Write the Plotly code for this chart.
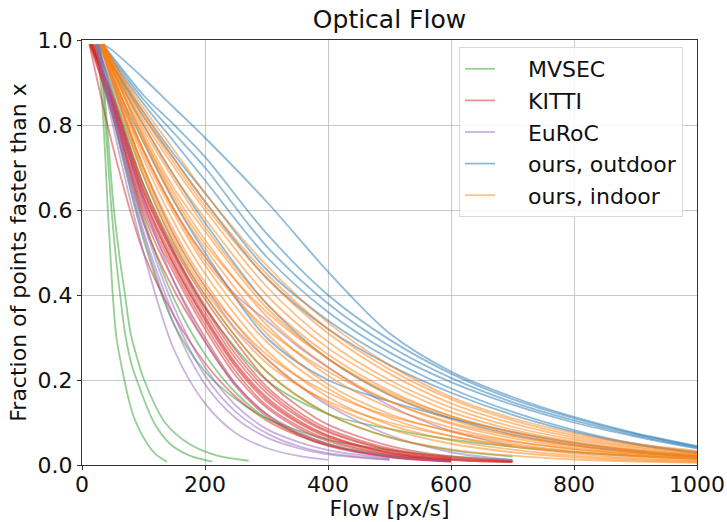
import plotly.graph_objects as go

# ---------------- data ----------------
TITLE = "Optical Flow"
X_LABEL = "Flow [px/s]"
Y_LABEL = "Fraction of points faster than x"
X_TICKS = [0, 200, 400, 600, 800, 1000]
Y_TICKS = [0.0, 0.2, 0.4, 0.6, 0.8, 1.0]
Y_TICK_TEXT = ["0.0", "0.2", "0.4", "0.6", "0.8", "1.0"]

# MVSEC: per-curve x and y samples
MVSEC_X = [
    [25, 33, 38, 42, 46, 50, 56, 66, 75, 86, 106, 120, 138],
    [28, 36, 42, 48, 55, 62, 70, 80, 89, 117, 143, 175, 212],
    [30, 38, 45, 52, 61, 70, 79, 90, 101, 135, 174, 220, 271],
    [20, 50, 100, 150, 200, 250, 300, 400, 500, 600, 700],
    [25, 50, 100, 150, 200, 300, 400, 500, 600, 800, 1000],
    [22, 50, 100, 150, 200, 250, 300, 400, 500, 600],
    [25, 50, 100, 150, 200, 300, 400, 500, 600, 700],
]
MVSEC_Y = [
    [0.99, 0.85, 0.72, 0.60, 0.50, 0.40, 0.30, 0.22, 0.16, 0.106, 0.05, 0.025, 0.008],
    [0.99, 0.85, 0.72, 0.60, 0.49, 0.40, 0.31, 0.24, 0.20, 0.10, 0.05, 0.022, 0.008],
    [0.99, 0.85, 0.72, 0.60, 0.49, 0.40, 0.31, 0.25, 0.20, 0.10, 0.05, 0.022, 0.01],
    [0.99, 0.82, 0.53, 0.33, 0.22, 0.155, 0.11, 0.06, 0.035, 0.02, 0.012],
    [0.99, 0.87, 0.66, 0.50, 0.37, 0.20, 0.12, 0.085, 0.06, 0.03, 0.015],
    [0.99, 0.84, 0.58, 0.39, 0.26, 0.17, 0.11, 0.05, 0.022, 0.01],
    [0.99, 0.88, 0.68, 0.52, 0.40, 0.22, 0.12, 0.065, 0.035, 0.02],
]

# KITTI / EuRoC: start x, then y on a shared grid (list length = where curve ends)
SHORT_GRID = [50, 100, 150, 200, 250, 300, 350, 400, 500, 600, 700]
KITTI_X0 = [12, 14, 15, 16, 18, 15, 13, 17, 20, 14, 12, 16]
KITTI_Y = [
    [0.83, 0.59, 0.43, 0.30, 0.19, 0.12, 0.075, 0.048, 0.019, 0.008],
    [0.84, 0.60, 0.45, 0.32, 0.21, 0.135, 0.088, 0.056, 0.023, 0.010],
    [0.85, 0.62, 0.47, 0.34, 0.23, 0.15, 0.10, 0.065, 0.028, 0.012, 0.007],
    [0.85, 0.63, 0.48, 0.35, 0.24, 0.16, 0.107, 0.07, 0.030, 0.013],
    [0.86, 0.64, 0.49, 0.36, 0.25, 0.17, 0.115, 0.077, 0.034, 0.015, 0.008],
    [0.86, 0.65, 0.50, 0.375, 0.27, 0.185, 0.127, 0.085, 0.039, 0.017],
    [0.87, 0.66, 0.51, 0.39, 0.29, 0.20, 0.14, 0.095, 0.045, 0.020, 0.010],
    [0.84, 0.61, 0.46, 0.33, 0.22, 0.14, 0.093, 0.06, 0.025, 0.011],
    [0.85, 0.63, 0.47, 0.345, 0.235, 0.155, 0.103, 0.068, 0.029, 0.012, 0.007],
    [0.82, 0.57, 0.41, 0.29, 0.185, 0.115, 0.072, 0.045, 0.018, 0.008],
    [0.75, 0.50, 0.35, 0.24, 0.16, 0.105, 0.07, 0.046, 0.020, 0.009],
    [0.86, 0.645, 0.495, 0.37, 0.26, 0.178, 0.12, 0.08, 0.036, 0.016, 0.009],
]
EUROC_X0 = [22, 24, 25, 26, 23, 28, 25]
EUROC_Y = [
    [0.80, 0.50, 0.27, 0.145, 0.075, 0.04, 0.022, 0.012],
    [0.82, 0.54, 0.33, 0.19, 0.11, 0.065, 0.04, 0.025, 0.012],
    [0.84, 0.57, 0.37, 0.23, 0.14, 0.085, 0.055, 0.035, 0.015],
    [0.86, 0.62, 0.43, 0.29, 0.19, 0.12, 0.08, 0.05, 0.020, 0.010],
    [0.89, 0.70, 0.54, 0.42, 0.32, 0.25, 0.19, 0.14, 0.070, 0.030, 0.012],
    [0.90, 0.74, 0.60, 0.49, 0.40, 0.34, 0.28, 0.23, 0.14, 0.08, 0.045],
    [0.83, 0.55, 0.35, 0.21, 0.125, 0.075, 0.045, 0.028, 0.013],
]

# ours: start x, then y on a long shared grid
LONG_GRID = [50, 100, 150, 200, 300, 400, 500, 600, 700, 800, 900, 1000]
OUTDOOR_X0 = [35, 34, 33, 33, 32, 31, 30, 30]
OUTDOOR_Y = [
    [0.975, 0.91, 0.84, 0.77, 0.62, 0.455, 0.31, 0.22, 0.16, 0.113, 0.075, 0.045],
    [0.96, 0.87, 0.80, 0.725, 0.545, 0.40, 0.295, 0.215, 0.155, 0.11, 0.073, 0.043],
    [0.955, 0.86, 0.78, 0.70, 0.515, 0.38, 0.28, 0.205, 0.148, 0.105, 0.07, 0.041],
    [0.95, 0.85, 0.76, 0.67, 0.49, 0.36, 0.265, 0.195, 0.142, 0.10, 0.067, 0.039],
    [0.94, 0.83, 0.73, 0.64, 0.46, 0.34, 0.25, 0.18, 0.125, 0.082, 0.05, 0.030],
    [0.94, 0.82, 0.72, 0.62, 0.44, 0.32, 0.235, 0.17, 0.118, 0.078, 0.048, 0.028],
    [0.93, 0.80, 0.68, 0.57, 0.38, 0.25, 0.165, 0.11, 0.072, 0.047, 0.03, 0.019],
    [0.91, 0.76, 0.62, 0.50, 0.30, 0.20, 0.15, 0.11, 0.078, 0.052, 0.033, 0.020],
]
INDOOR_X0 = [30, 31, 31, 32, 32, 33, 33, 33, 34, 34, 34, 35, 35, 35, 30, 32, 33, 30]
INDOOR_Y = [
    [0.90, 0.68, 0.52, 0.40, 0.22, 0.12, 0.065, 0.037, 0.022, 0.013, 0.008, 0.005],
    [0.91, 0.70, 0.55, 0.43, 0.25, 0.145, 0.085, 0.05, 0.03, 0.018, 0.011, 0.007],
    [0.91, 0.72, 0.57, 0.45, 0.27, 0.16, 0.095, 0.058, 0.036, 0.022, 0.014, 0.009],
    [0.92, 0.73, 0.59, 0.47, 0.29, 0.18, 0.11, 0.068, 0.043, 0.027, 0.017, 0.011],
    [0.92, 0.74, 0.60, 0.49, 0.31, 0.19, 0.12, 0.078, 0.05, 0.032, 0.021, 0.014],
    [0.93, 0.76, 0.62, 0.51, 0.33, 0.21, 0.135, 0.088, 0.057, 0.037, 0.024, 0.016],
    [0.93, 0.77, 0.64, 0.53, 0.35, 0.23, 0.15, 0.097, 0.063, 0.041, 0.027, 0.018],
    [0.93, 0.78, 0.65, 0.55, 0.37, 0.25, 0.165, 0.107, 0.07, 0.046, 0.03, 0.020],
    [0.94, 0.79, 0.67, 0.56, 0.38, 0.26, 0.175, 0.115, 0.076, 0.05, 0.033, 0.022],
    [0.94, 0.80, 0.68, 0.58, 0.40, 0.275, 0.19, 0.125, 0.083, 0.055, 0.036, 0.024],
    [0.94, 0.81, 0.70, 0.60, 0.42, 0.29, 0.20, 0.135, 0.09, 0.06, 0.04, 0.026],
    [0.95, 0.82, 0.71, 0.61, 0.44, 0.31, 0.215, 0.145, 0.098, 0.065, 0.043, 0.028],
    [0.95, 0.83, 0.72, 0.62, 0.45, 0.32, 0.225, 0.155, 0.105, 0.07, 0.047, 0.031],
    [0.95, 0.84, 0.74, 0.64, 0.47, 0.335, 0.235, 0.16, 0.11, 0.075, 0.05, 0.033],
    [0.90, 0.70, 0.54, 0.42, 0.26, 0.17, 0.115, 0.08, 0.055, 0.038, 0.026, 0.018],
    [0.92, 0.74, 0.60, 0.48, 0.32, 0.22, 0.15, 0.10, 0.068, 0.045, 0.03, 0.020],
    [0.93, 0.77, 0.63, 0.52, 0.36, 0.25, 0.17, 0.115, 0.078, 0.052, 0.035, 0.023],
    [0.90, 0.69, 0.53, 0.41, 0.24, 0.15, 0.10, 0.068, 0.046, 0.031, 0.021, 0.014],
]

GROUP_NAMES = ["MVSEC", "KITTI", "EuRoC", "ours, outdoor", "ours, indoor"]
GROUP_COLORS = ["rgba(44,160,44,0.5)", "rgba(214,39,40,0.5)", "rgba(148,103,189,0.5)",
                "rgba(31,119,180,0.5)", "rgba(255,127,14,0.5)"]

# ---------------- build curves ----------------
def grid_curves(x0s, ys, grid):
    out = []
    for x0, y in zip(x0s, ys):
        out.append(([x0] + grid[:len(y)], [0.99] + y))
    return out

groups = [
    list(zip(MVSEC_X, MVSEC_Y)),
    grid_curves(KITTI_X0, KITTI_Y, SHORT_GRID),
    grid_curves(EUROC_X0, EUROC_Y, SHORT_GRID),
    grid_curves(OUTDOOR_X0, OUTDOOR_Y, LONG_GRID),
    grid_curves(INDOOR_X0, INDOOR_Y, LONG_GRID),
]

fig = go.Figure()
NBSP = "\u00a0"
for gi, (name, color, curves) in enumerate(zip(GROUP_NAMES, GROUP_COLORS, groups)):
    for ci, (xs, ys) in enumerate(curves):
        fig.add_trace(go.Scatter(
            x=xs, y=ys, mode="lines",
            line=dict(color=color, width=1.8, shape="spline", smoothing=0.9),
            name=NBSP * 4 + name, legendgroup=name, showlegend=(ci == 0),
            hoverinfo="skip",
        ))

FONT = "DejaVu Sans"
fig.update_layout(
    width=727, height=522,
    margin=dict(l=82, r=30, t=40, b=57, autoexpand=False),
    paper_bgcolor="white", plot_bgcolor="white",
    font=dict(family=FONT, size=22, color="#111"),
    title=dict(text=TITLE, x=0.5, xref="paper", xanchor="center",
               y=1 - 19 / 522, yanchor="middle", font=dict(size=25, family=FONT)),
    showlegend=True,
    legend=dict(x=(459 - 82) / 615, y=(465 - 47) / 425, xanchor="left", yanchor="top",
                bgcolor="rgba(255,255,255,0.85)", bordercolor="#d9d9d9", borderwidth=1,
                font=dict(size=22, family=FONT), tracegroupgap=0,
                traceorder="grouped", itemwidth=30),
)
fig.update_xaxes(
    range=[0, 1000], tickvals=X_TICKS, ticks="outside", ticklen=4, tickcolor="#333",
    showgrid=True, gridcolor="#c8c8c8", gridwidth=1, automargin=False,
    showline=True, linecolor="#333", linewidth=1.2, mirror=True, zeroline=False,
    title=dict(text=X_LABEL, standoff=2, font=dict(size=22)),
    tickfont=dict(size=22), ticklabelstandoff=-5,
)
fig.update_yaxes(
    range=[0, 1], tickvals=Y_TICKS, ticktext=Y_TICK_TEXT, ticks="outside", ticklen=4,
    tickcolor="#333", showgrid=True, gridcolor="#c8c8c8", gridwidth=1, automargin=False,
    showline=True, linecolor="#333", linewidth=1.2, mirror=True, zeroline=False,
    title=dict(text=Y_LABEL, standoff=4, font=dict(size=22)),
    tickfont=dict(size=22),
)

fig.write_html("out.html")
